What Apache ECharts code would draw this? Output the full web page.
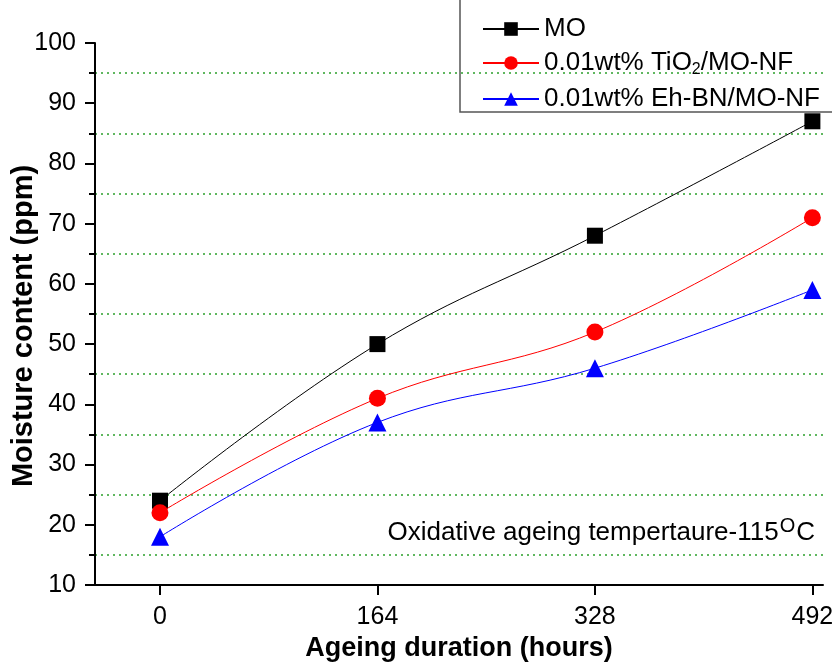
<!DOCTYPE html>
<html>
<head>
<meta charset="utf-8">
<script src="https://cdn.jsdelivr.net/npm/echarts@6/dist/echarts.min.js"></script>
<style>
  html, body { margin: 0; padding: 0; background: #fff; }
  #chart { width: 832px; height: 662px; }
</style>
</head>
<body>
<div id="chart"></div>
<script>
  // ageing duration (hours)
  const hours = [0, 164, 328, 492];
  const xTicks = [0, 164, 328, 492];
  // moisture content (ppm)
  const moData = [24, 50, 68, 87];
  const tioData = [22, 41, 52, 71];
  const ehbnData = [18, 37, 46, 59];
  const seriesNames = ["MO", "0.01wt% TiO2/MO-NF", "0.01wt% Eh-BN/MO-NF"];

  const chart = echarts.init(document.getElementById("chart"));
  const font = "Liberation Sans, Arial, sans-serif";

  const toPairs = arr => arr.map((v, i) => [hours[i], v]);

  const option = {
    backgroundColor: "#fff",
    animation: false,
    textStyle: { fontFamily: font },
    grid: { left: 95, right: 9, top: 43, bottom: 77, outerBoundsMode: "none", containLabel: false },
    legend: {
      orient: "vertical",
      left: 460,
      top: -6,
      width: 369,
      padding: [22, 40, 0, 22],
      itemGap: 8,
      itemWidth: 56,
      itemHeight: 17,
      borderColor: "#555",
      borderWidth: 1.5,
      data: seriesNames,
      textStyle: {
        fontFamily: font,
        fontSize: 26,
        color: "#000",
        rich: {
          sub: { fontSize: 16, fontFamily: font, color: "#000", padding: [14, 0, 0, 0] },
        },
      },
      formatter: name => (name.indexOf("TiO2") >= 0 ? "0.01wt% TiO{sub|2}/MO-NF" : name),
    },
    xAxis: {
      type: "value",
      min: -49,
      max: 500,
      name: "Ageing duration (hours)",
      nameLocation: "middle",
      nameGap: 50,
      nameTextStyle: { fontFamily: font, fontSize: 27, fontWeight: "bold", color: "#000" },
      axisLine: { show: true, onZero: false, lineStyle: { color: "#000", width: 2 } },
      axisTick: { show: true, inside: false, length: 10, customValues: xTicks, lineStyle: { color: "#000", width: 2 } },
      axisLabel: { fontSize: 25, color: "#000", margin: 20, customValues: xTicks, fontFamily: font },
      splitLine: { show: false },
    },
    yAxis: {
      type: "value",
      min: 10,
      max: 100,
      interval: 10,
      name: "Moisture content (ppm)",
      nameLocation: "middle",
      nameGap: 57,
      nameMoveOverlap: false,
      nameTextStyle: { fontFamily: font, fontSize: 29, fontWeight: "bold", color: "#000", padding: [0, 24, 0, 0] },
      axisLine: { show: true, onZero: false, lineStyle: { color: "#000", width: 2 } },
      axisTick: { show: true, inside: false, length: 10, lineStyle: { color: "#000", width: 2 } },
      minorTick: { show: true, splitNumber: 2, length: 6, lineStyle: { color: "#000", width: 2 } },
      axisLabel: { fontSize: 25, color: "#000", margin: 19, fontFamily: font },
      splitLine: { show: false },
      minorSplitLine: { show: true, lineStyle: { color: "#2ca02c", type: [2, 4], width: 1.5 } },
    },
    series: [
      {
        name: seriesNames[0],
        type: "line",
        smooth: 0.4,
        symbol: "rect",
        symbolSize: 16,
        itemStyle: { color: "#000" },
        lineStyle: { color: "#000", width: 1 },
        data: toPairs(moData),
        z: 4,
      },
      {
        name: seriesNames[1],
        type: "line",
        smooth: 0.4,
        symbol: "circle",
        symbolSize: 17,
        itemStyle: { color: "#ff0000" },
        lineStyle: { color: "#ff0000", width: 1 },
        data: toPairs(tioData),
        z: 5,
      },
      {
        name: seriesNames[2],
        type: "line",
        smooth: 0.4,
        symbol: "triangle",
        symbolSize: 18,
        itemStyle: { color: "#0000ff" },
        lineStyle: { color: "#0000ff", width: 1 },
        data: toPairs(ehbnData),
        z: 6,
      },
    ],
    graphic: [
      {
        type: "text",
        right: 17,
        top: 516,
        style: {
          text: "Oxidative ageing tempertaure-115{sup|O}C",
          font: "26px " + font,
          fill: "#000",
          rich: {
            sup: { fontSize: 20, fontFamily: font, fill: "#000", padding: [0, 1, 14, 1] },
          },
        },
      },
    ],
  };

  chart.setOption(option);
</script>
</body>
</html>
